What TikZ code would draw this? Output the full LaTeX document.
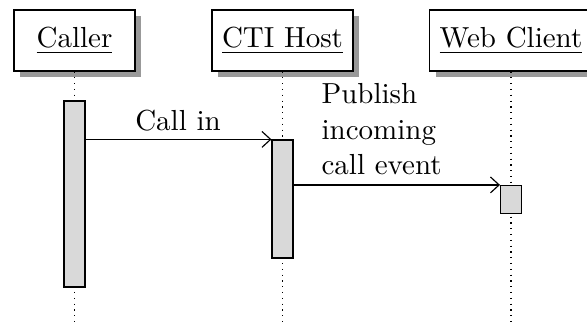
\documentclass[tikz,border=0pt]{standalone}
\usetikzlibrary{shadows,arrows.meta}
\begin{document}
\begin{tikzpicture}[x=0.3448pt,y=-0.3448pt,
  thread/.style={draw, fill=white, minimum width=41.7pt, minimum height=21pt,
    inner xsep=3.45pt,
    drop shadow={shadow xshift=2pt, shadow yshift=-2pt, fill=black!40, opacity=1}},
  lifeline/.style={dash pattern=on 0.4pt off 1.6pt},
  activation/.style={draw, fill=black!15, inner sep=0pt, minimum width=7.2pt},
  msg/.style={-{Straight Barb[length=3pt,width=5.5pt]}}]
\useasboundingbox (0,0) rectangle (587,324);

% participants
\node[thread] (caller) at (74.5,40.5) {\underline{Caller}};
\node[thread] (cti)    at (282.5,40.5) {\underline{CTI Host}};
\node[thread] (web)    at (511,40.5) {\underline{Web Client}};

% lifelines
\coordinate (callerEnd) at (74.5,324);
\coordinate (ctiEnd)    at (282.5,324);
\coordinate (webEnd)    at (511,324);
\draw[lifeline] (caller.south) -- (callerEnd);
\draw[lifeline] (cti.south) -- (ctiEnd);
\draw[lifeline] (web.south) -- (webEnd);

% activation bars
\node[activation, minimum height=64.1pt] (callerBar) at (74.5,194) {};
\node[activation, minimum height=40.7pt] (ctiBar)    at (282.5,199) {};
\node[activation, minimum height=9.66pt] (webBar)    at (511,199.5) {};

% messages
\draw[msg] (ctiBar.north west -| callerBar.east) -- (ctiBar.north west);
\node[anchor=base] (callLbl) at (178,130) {Call in};

\draw[msg] (webBar.north west -| ctiBar.east) -- (webBar.north west);
\node[anchor=north west, align=left, inner sep=0pt] (pubLbl) at (321,83)
  {Publish\\[0.2pt]incoming\\[0.2pt]call event};
\end{tikzpicture}
\end{document}
